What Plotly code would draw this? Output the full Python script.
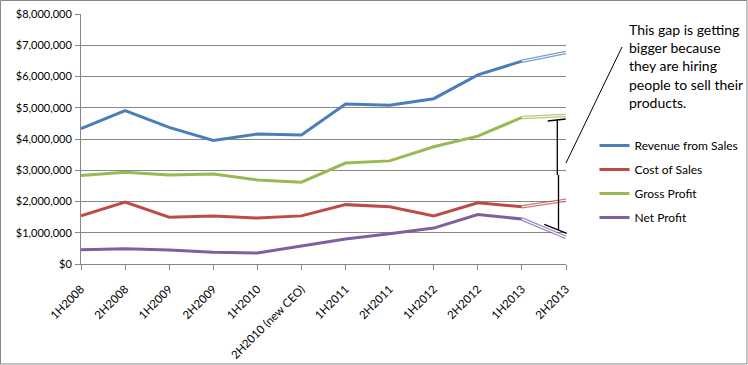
import plotly.graph_objects as go

categories = ["1H2008", "2H2008", "1H2009", "2H2009", "1H2010", "2H2010 (new CEO)",
              "1H2011", "2H2011", "1H2012", "2H2012", "1H2013", "2H2013"]
revenue = [4330000, 4910000, 4370000, 3950000, 4160000, 4130000,
           5120000, 5080000, 5290000, 6050000, 6490000, 6770000]
cost = [1540000, 1980000, 1500000, 1540000, 1470000, 1540000,
        1900000, 1830000, 1540000, 1960000, 1830000, 2040000]
gross = [2830000, 2940000, 2850000, 2880000, 2690000, 2620000,
         3230000, 3300000, 3750000, 4090000, 4690000, 4750000]
net = [460000, 490000, 450000, 380000, 350000, 570000,
       800000, 970000, 1150000, 1580000, 1440000, 850000]
series_names = ["Revenue from Sales", "Cost of Sales", "Gross Profit", "Net Profit"]
series_colors = ["#4A7EBB", "#BE4B48", "#98B954", "#7D60A0"]
note_text = "This gap is getting<br>bigger because<br>they are hiring<br>people to sell their<br>products."
y_ticks = [0, 1000000, 2000000, 3000000, 4000000, 5000000, 6000000, 7000000, 8000000]

W, H = 748, 365
ML, MR, MT, MB = 81, 182, 14, 101
PW, PH = W - ML - MR, H - MT - MB


def px(x):
    return (x - ML) / PW


def py(y):
    return (H - MB - y) / PH


FONT = "Lato"
GRID = "#878787"

fig = go.Figure()
all_series = [revenue, cost, gross, net]
for name, vals, col in zip(series_names, all_series, series_colors):
    fig.add_trace(go.Scatter(
        x=categories[:-1], y=vals[:-1], mode="lines", name=name,
        line=dict(color=col, width=3), legendgroup=name,
        hoverinfo="skip"))
for name, vals, col in zip(series_names, all_series, series_colors):
    fig.add_trace(go.Scatter(
        x=categories[-2:], y=vals[-2:], mode="lines", showlegend=False,
        line=dict(color=col, width=3.6), opacity=0.75, hoverinfo="skip"))
    fig.add_trace(go.Scatter(
        x=categories[-2:], y=vals[-2:], mode="lines", showlegend=False,
        line=dict(color="white", width=1.1), hoverinfo="skip"))

shapes = [
    # chart border
    dict(type="rect", xref="paper", yref="paper", x0=px(0.5), x1=px(747), y0=py(364), y1=py(0.5),
         line=dict(color=GRID, width=1), layer="below"),
    # callout line
    dict(type="line", xref="paper", yref="paper", x0=px(622), y0=py(47), x1=px(566), y1=py(163),
         line=dict(color="black", width=1)),
    # bracket
    dict(type="line", xref="paper", yref="paper", x0=px(557.3), y0=py(120), x1=px(557.3), y1=py(175),
         line=dict(color="black", width=1.3)),
    dict(type="line", xref="paper", yref="paper", x0=px(558.5), y0=py(175), x1=px(558.5), y1=py(229.5),
         line=dict(color="black", width=1.3)),
    dict(type="line", xref="paper", yref="paper", x0=px(547.7), y0=py(121), x1=px(565.7), y1=py(119),
         line=dict(color="black", width=1.3)),
    dict(type="line", xref="paper", yref="paper", x0=px(544.3), y0=py(224.3), x1=px(566.7), y1=py(233.3),
         line=dict(color="black", width=1.3)),
]

fig.update_layout(
    width=W, height=H,
    margin=dict(l=ML, r=MR, t=MT, b=MB, pad=0, autoexpand=False),
    paper_bgcolor="white", plot_bgcolor="white",
    font=dict(family=FONT, size=11, color="black"),
    showlegend=True,
    legend=dict(x=px(594.5), y=py(131), xanchor="left", yanchor="top",
                font=dict(family=FONT, size=12, color="black"),
                tracegroupgap=5, bgcolor="rgba(0,0,0,0)", borderwidth=0),
    shapes=shapes,
    annotations=[dict(xref="paper", yref="paper", x=px(627), y=py(18.5), xanchor="left", yanchor="top",
                      text=note_text, showarrow=False, align="left",
                      font=dict(family=FONT, size=14, color="black"))],
    xaxis=dict(type="category", range=[0, len(categories) - 1], showgrid=False,
               showline=True, linecolor=GRID, linewidth=1, automargin=False,
               ticks="outside", ticklen=5, tickcolor=GRID, tickangle=-45,
               tickfont=dict(family=FONT, size=11.5, color="black"), zeroline=False,
               ticklabelstandoff=8, fixedrange=True),
    yaxis=dict(range=[0, 8000000], tickvals=y_ticks, tickformat="$,d",
               showgrid=True, gridcolor=GRID, gridwidth=1, automargin=False,
               showline=True, linecolor=GRID, linewidth=1,
               ticks="outside", ticklen=5, tickcolor=GRID, zeroline=False,
               tickfont=dict(family=FONT, size=11, color="black"), ticklabelstandoff=1,
               fixedrange=True),
)

fig.write_html("out.html", config=dict(displayModeBar=False, staticPlot=True),
               post_script="document.body.style.margin='0';document.body.style.overflow='hidden';")
